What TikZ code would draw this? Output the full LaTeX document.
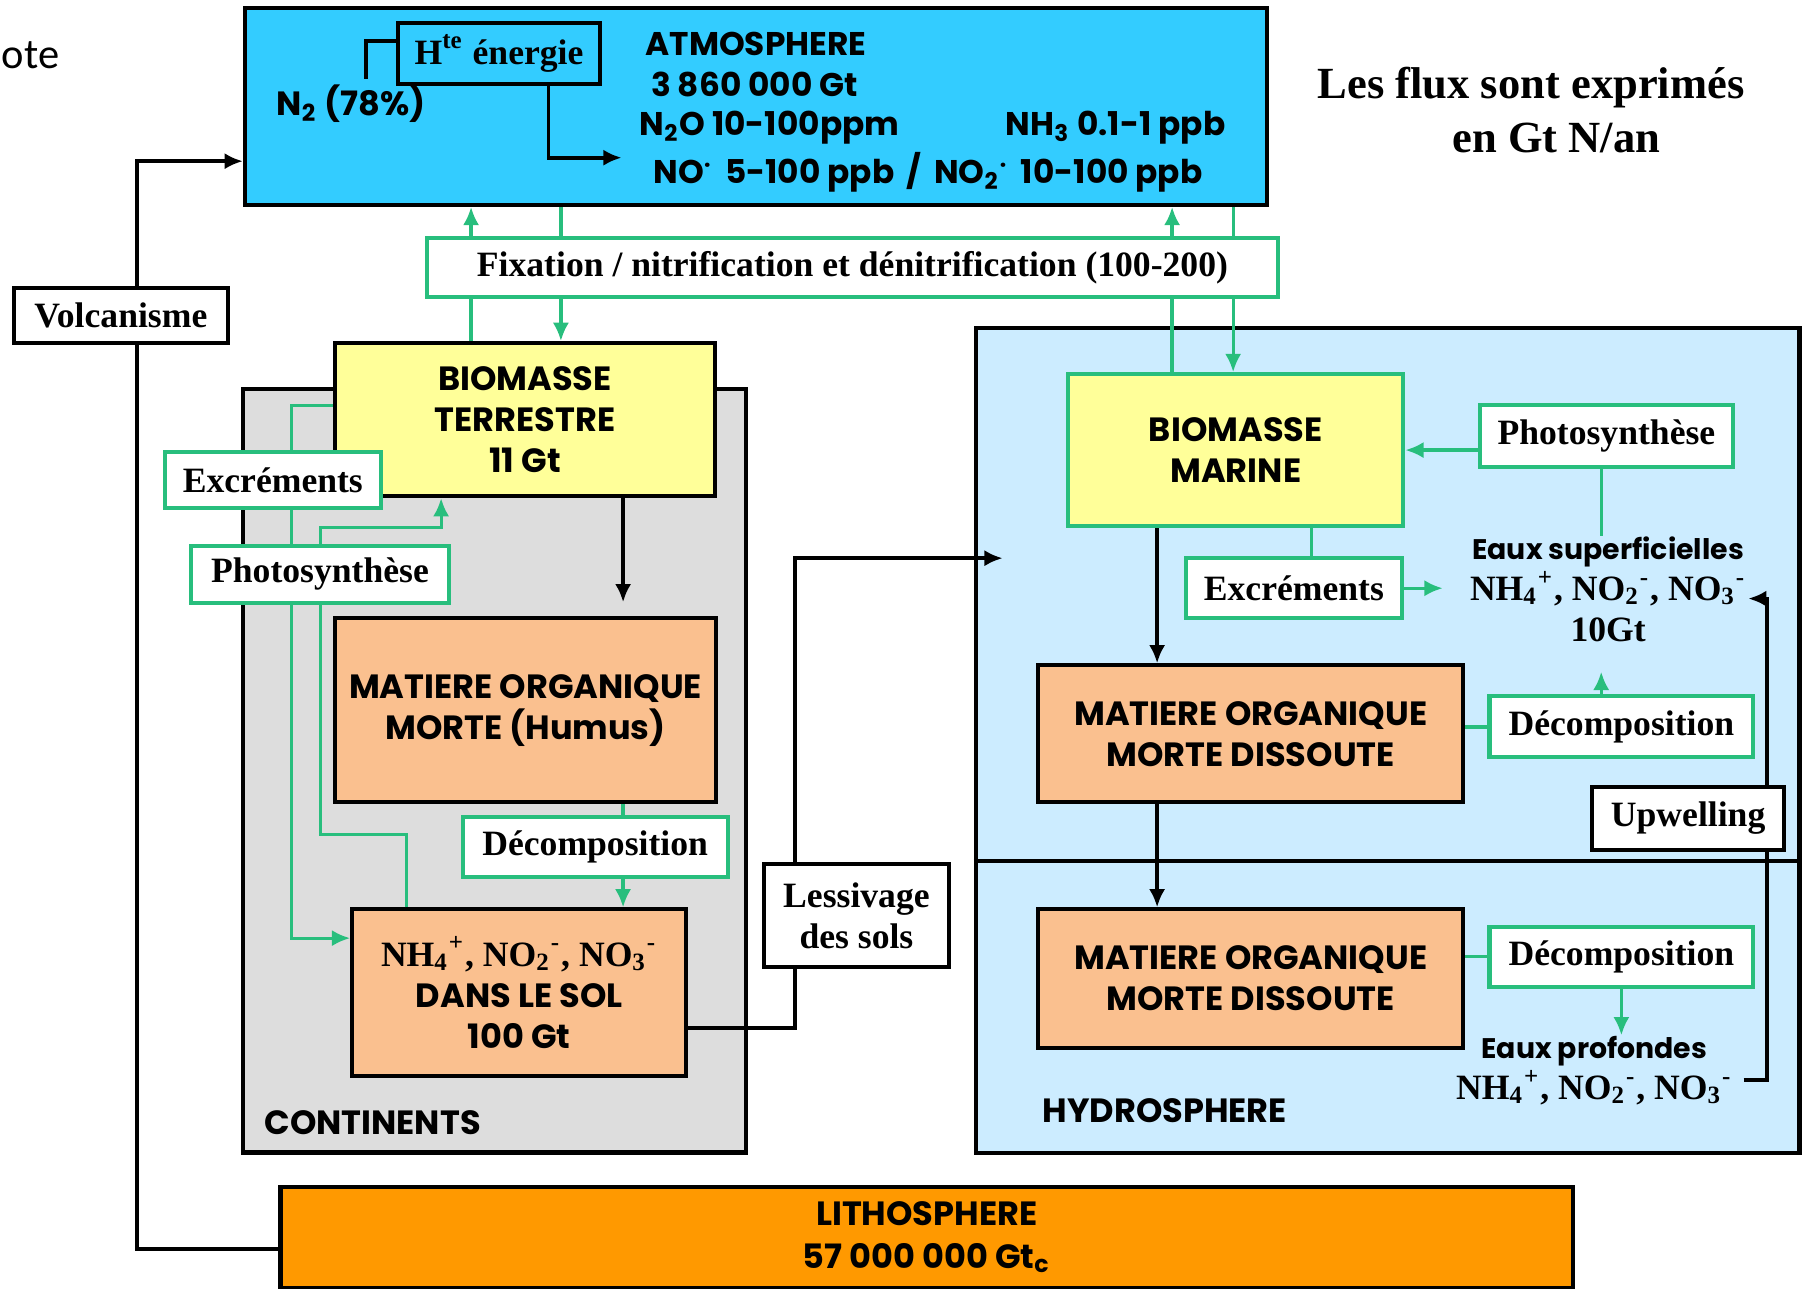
\documentclass[tikz,border=0pt]{standalone}
\usepackage{fontspec}
\setmainfont{Liberation Serif}
\newfontfamily\gothic{Poppins}
\newfontfamily\serifbf{Liberation Serif Bold}
\newfontfamily\calib{Carlito}
\usepackage{tikz}
\usetikzlibrary{arrows.meta,calc}

\definecolor{atmocyan}{RGB}{51,204,255}
\definecolor{hydroblue}{RGB}{204,236,255}
\definecolor{contgray}{RGB}{221,221,221}
\definecolor{biomyellow}{RGB}{255,255,153}
\definecolor{mopeach}{RGB}{250,192,143}
\definecolor{lithorange}{RGB}{255,153,0}
\definecolor{flowgreen}{RGB}{40,190,125}

\newcommand{\chemion}[3]{#1\textsubscript{#2}\textsuperscript{#3}}
\newcommand{\sansfnt}{\gothic\bfseries\fontsize{8.3}{10.2}\selectfont}
\newcommand{\serifnt}{\serifbf\fontsize{8.8}{10.2}\selectfont}

\begin{document}
\begin{tikzpicture}[x=0.01cm, y=-0.01cm, >={Latex[length=4.5pt,width=4pt]},
  region/.style={draw, line width=1pt, inner sep=0pt},
  store/.style={draw, line width=1pt, inner sep=0pt, align=center, font=\sansfnt},
  flowbox/.style={draw=flowgreen, line width=1pt, fill=white, inner sep=0pt, align=center, font=\serifnt},
  procbox/.style={draw, line width=1pt, fill=white, inner sep=0pt, align=center, font=\serifnt},
  txt/.style={inner sep=0pt, align=center, font=\sansfnt},
  atmtxt/.style={inner sep=0pt, anchor=west, font=\gothic\bfseries\fontsize{8.1}{9.6}\selectfont},
  gline/.style={draw=flowgreen, line width=0.8pt},
  bline/.style={draw=black, line width=0.9pt}]
  \useasboundingbox (0,0) rectangle (1568,1119);
  % reservoirs
  \node[region, fill=atmocyan, minimum width=8.87cm, minimum height=1.71cm] (atm) at (656.5,92.5) {};
  \node[region, fill=contgray, minimum width=4.37cm, minimum height=6.63cm] (cont) at (429.5,669.5) {};
  \node[region, fill=hydroblue, minimum width=7.15cm, minimum height=7.16cm] (hydro) at (1205.5,643) {};
  \draw[line width=1pt] ([yshift=-1.05cm]hydro.west) -- ([yshift=-1.05cm]hydro.east);
  % atmosphere contents
  \node[atmtxt] (atmName) at (560,38) {ATMOSPHERE};
  \node[atmtxt] (atmMass) at (565,73) {3 860 000 Gt};
  \node[atmtxt] (atmN2O) at (555,111) {N\textsubscript{2}O 10-100ppm};
  \node[atmtxt] (atmNH3) at (873,111) {NH\textsubscript{3} 0.1-1 ppb};
  \node[atmtxt] (atmNO) at (567,150) {NO\textsuperscript{·}\, 5-100 ppb \,/\, \chemion{NO}{2}{·}\, 10-100 ppb};
  \node[txt] (n2) at (305,90) {N\textsubscript{2} (78\%)};
  \node[procbox, fill=atmocyan, minimum width=1.75cm, minimum height=0.53cm] (hte) at (433.5,46.5) {H\textsuperscript{te} énergie};
  \draw[line width=0.9pt] ($(hte.west)+(0,-11)$) -- ++(-26,0) -- ++(0,33);
  \coordinate (hteT) at (540,137);
  \draw[bline,->] ($(hte.south west)!0.74!(hte.south east)$) |- (hteT);
  % legend
  \node[txt, font=\serifbf\fontsize{11}{13}\selectfont] (fluxA) at (1330,76) {Les flux sont exprimés};
  \node[txt, font=\serifbf\fontsize{11}{13}\selectfont] (fluxB) at (1352,120) {en Gt N/an};
  \node[anchor=west, inner sep=0pt, font=\calib\fontsize{10.5}{12}\selectfont] (ote) at (1,48) {ote};
  \node[txt, anchor=west] (contName) at (229,975) {CONTINENTS};
  \node[txt, anchor=west] (hydroName) at (905,965) {HYDROSPHERE};
  % continents
  \node[store, fill=biomyellow, minimum width=3.30cm, minimum height=1.33cm] (bioT) at (456,364.5) {BIOMASSE\\TERRESTRE\\11 Gt};
  \node[store, fill=mopeach, minimum width=3.31cm, minimum height=1.60cm] (moH) at (456.5,617) {MATIERE ORGANIQUE\\MORTE (Humus)};
  \node[flowbox, minimum width=2.30cm, minimum height=0.52cm] (decC) at (517,736) {Décomposition};
  \node[store, fill=mopeach, minimum width=2.90cm, minimum height=1.45cm] (solN) at (451,862.5)
    {{\serifnt\chemion{NH}{4}{+}, \chemion{NO}{2}{-}, \chemion{NO}{3}{-}}\\DANS LE SOL\\100 Gt};
  % hydrosphere
  \node[store, fill=biomyellow, draw=flowgreen, minimum width=2.91cm, minimum height=1.32cm] (bioM) at (1073.5,391) {BIOMASSE\\MARINE};
  \node[flowbox, minimum width=2.19cm, minimum height=0.54cm] (phoR) at (1395.5,379) {Photosynthèse};
  \node[flowbox, minimum width=1.88cm, minimum height=0.52cm] (excR) at (1124,511) {Excréments};
  \node[txt] (surf) at (1397,512) {{\fontsize{7}{10}\selectfont Eaux superficielles}\\
    {\serifnt\chemion{NH}{4}{+}, \chemion{NO}{2}{-}, \chemion{NO}{3}{-}}\\{\serifnt 10Gt}};
  \node[store, fill=mopeach, minimum width=3.69cm, minimum height=1.19cm] (moD1) at (1086.5,637.5) {MATIERE ORGANIQUE\\MORTE DISSOUTE};
  \node[flowbox, minimum width=2.29cm, minimum height=0.53cm] (decD1) at (1408.5,631.5) {Décomposition};
  \node[store, fill=mopeach, minimum width=3.69cm, minimum height=1.20cm] (moD2) at (1086.5,850) {MATIERE ORGANIQUE\\MORTE DISSOUTE};
  \node[flowbox, minimum width=2.29cm, minimum height=0.52cm] (decD2) at (1408.5,831) {Décomposition};
  \node[txt] (deep) at (1385,930) {{\fontsize{7}{10}\selectfont Eaux profondes}\\
    {\serifnt\chemion{NH}{4}{+}, \chemion{NO}{2}{-}, \chemion{NO}{3}{-}}};
  % lithosphere
  \node[store, fill=lithorange, minimum width=11.22cm, minimum height=0.88cm, font=\gothic\bfseries\fontsize{8.3}{10.6}\selectfont] (litho) at (805,1075) {LITHOSPHERE\\57 000 000 Gt\textsubscript{c}};
  % exchanges with the atmosphere
  \coordinate (tUp) at ([xshift=1.2cm]bioT.north west);
  \coordinate (tDown) at ([xshift=1.98cm]bioT.north west);
  \coordinate (mUp) at ([xshift=0.92cm]bioM.north west);
  \coordinate (mDown) at ([xshift=1.45cm]bioM.north west);
  \draw[gline,->] (tUp) -- (tUp |- atm.south);
  \draw[gline,<-] (tDown) -- (tDown |- atm.south);
  \draw[gline,->] (mUp) -- (mUp |- atm.south);
  \draw[gline,<-] (mDown) -- (mDown |- atm.south);
  % continental cycle
  \coordinate (tFall) at ([xshift=2.52cm]bioT.south west);
  \draw[bline,->,shorten >=0.12cm] (tFall) -- (tFall |- moH.north);
  \coordinate (hDec) at ([xshift=1.41cm]decC.north west);
  \draw[gline] (hDec) -- (hDec |- moH.south);
  \coordinate (hSol) at ([xshift=1.41cm]decC.south west);
  \draw[gline,->] (hSol) -- (hSol |- solN.north);
  \draw[gline,->] ([yshift=0.125cm]bioT.west) -- ++(-36,0) |- ([yshift=0.475cm]solN.west);
  \draw[gline,->] ([xshift=0.49cm]solN.north west) -- ++(0,-63) -- ++(-75,0) -- ++(0,-267) -| ([xshift=0.94cm]bioT.south west);
  \draw[bline,->] ([yshift=-0.305cm]solN.east) -- ++(93,0) |- ([xshift=0.25cm,yshift=1.58cm]hydro.west);
  \draw[bline,->] ([yshift=-0.1cm]litho.west) -- ++(-123,0) |- ([yshift=-0.475cm]atm.west);
  % marine cycle
  \draw[gline,->] (phoR.west |- bioM.east) -- (bioM.east);
  \coordinate (sTop) at ([xshift=-0.06cm]surf.north);
  \draw[gline] (sTop) -- (sTop |- phoR.south);
  \coordinate (mExc) at ([xshift=0.15cm]excR.north);
  \draw[gline] (mExc) -- (mExc |- bioM.south);
  \draw[gline,->,shorten >=0.23cm] (excR.east) -- (excR.east -| surf.west);
  \coordinate (mFall) at ([xshift=1.05cm]moD1.north west);
  \draw[bline,->] (mFall |- bioM.south) -- (mFall);
  \coordinate (mSink) at ([xshift=1.05cm]moD1.south west);
  \draw[bline,->] (mSink) -- (mSink |- moD2.north);
  \draw[gline] (moD1.east |- decD1.west) -- (decD1.west);
  \coordinate (dUp) at ([xshift=-0.175cm]decD1.north);
  \draw[gline,->,shorten >=0.25cm] (dUp) -- (dUp |- surf.south);
  \draw[gline] (moD2.east |- decD2.west) -- (decD2.west);
  \draw[gline,->] (decD2.south) -- (decD2.south |- deep.north);
  \draw[bline,->] ([xshift=0.09cm,yshift=-0.08cm]deep.east) -- ++(20,0) |- ([xshift=0.01cm,yshift=-0.08cm]surf.east);
  % process boxes on top of the flows
  \node[flowbox, minimum width=7.39cm, minimum height=0.51cm] (fix) at (740.5,232.5) {Fixation / nitrification et dénitrification (100-200)};
  \node[flowbox, minimum width=1.88cm, minimum height=0.48cm] (excL) at (237,417) {Excréments};
  \node[flowbox, minimum width=2.24cm, minimum height=0.50cm] (phoL) at (278,499) {Photosynthèse};
  \node[procbox, minimum width=1.60cm, minimum height=0.89cm] (less) at (744,795.5) {Lessivage\\des sols};
  \node[procbox, minimum width=1.67cm, minimum height=0.54cm] (upw) at (1466.5,711) {Upwelling};
  \node[procbox, minimum width=1.86cm, minimum height=0.48cm] (volc) at (105,274) {Volcanisme};
\end{tikzpicture}
\end{document}
